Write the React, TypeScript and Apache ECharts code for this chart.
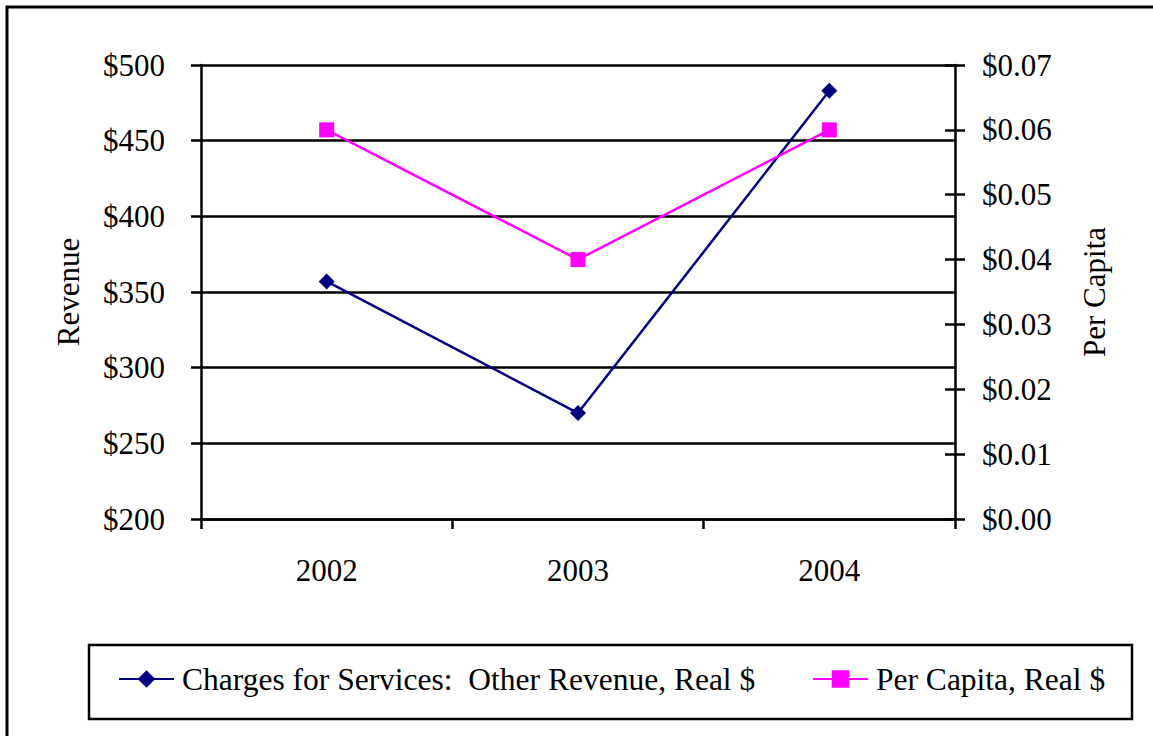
import React, { useEffect, useRef } from "react";
import * as echarts from "echarts";

const years = ["2002", "2003", "2004"];
const revenue = [357, 270, 483];
const perCapita = [0.06, 0.04, 0.06];
const seriesNames = ["Charges for Services:  Other Revenue, Real $", "Per Capita, Real $"];

const FONT = "Liberation Serif";

export default function App() {
  const ref = useRef<HTMLDivElement>(null);
  useEffect(() => {
    if (!ref.current) return;
    const chart = echarts.init(ref.current, null, { renderer: "svg" });
    const textStyle = { fontFamily: FONT, fontSize: 31, color: "#000" };
    const lw = 2.5;
    chart.setOption({
      animation: false,
      backgroundColor: "#fff",
      textStyle,
      grid: { left: 201, right: 198, top: 65, bottom: 217, containLabel: false },
      xAxis: {
        type: "category",
        data: years,
        boundaryGap: true,
        axisLine: { lineStyle: { color: "#000", width: lw } },
        axisTick: { show: true, length: 10, lineStyle: { color: "#000", width: lw } },
        axisLabel: { ...textStyle, margin: 36 },
        splitLine: { show: false },
      },
      yAxis: [
        {
          type: "value",
          min: 200,
          max: 500,
          interval: 50,
          position: "left",
          name: "Revenue",
          nameLocation: "middle",
          nameGap: 117,
          nameRotate: 90,
          nameTextStyle: { ...textStyle },
          axisLine: { show: true, lineStyle: { color: "#000", width: lw } },
          axisTick: { show: true, length: 10, lineStyle: { color: "#000", width: lw } },
          axisLabel: { ...textStyle, margin: 36, formatter: (v: number) => "$" + v },
          splitLine: { show: true, lineStyle: { color: "#000", width: lw } },
        },
        {
          type: "value",
          min: 0,
          max: 0.07,
          interval: 0.01,
          position: "right",
          name: "Per Capita",
          nameLocation: "middle",
          nameGap: 124,
          nameRotate: 90,
          nameTextStyle: { ...textStyle },
          axisLine: { show: true, lineStyle: { color: "#000", width: lw } },
          axisTick: { show: true, length: 10, lineStyle: { color: "#000", width: lw } },
          axisLabel: { ...textStyle, margin: 27, formatter: (v: number) => "$" + v.toFixed(2) },
          splitLine: { show: false },
        },
        {
          type: "value",
          min: 0,
          max: 0.07,
          interval: 0.01,
          position: "right",
          axisLine: { show: false },
          axisTick: { show: true, inside: true, length: 10, lineStyle: { color: "#000", width: lw } },
          axisLabel: { show: false },
          splitLine: { show: false },
        },
      ],
      legend: [
        {
          data: [seriesNames[0]],
          left: 118,
          top: 663,
          itemWidth: 55,
          itemHeight: 22,
          itemGap: 0,
          padding: 0,
          textStyle: { ...textStyle, fontSize: 31.5, padding: [0, 0, 0, 3] },
        },
        {
          data: [seriesNames[1]],
          left: 812,
          top: 663,
          itemWidth: 55,
          itemHeight: 22,
          itemGap: 0,
          padding: 0,
          textStyle: { ...textStyle, fontSize: 31.5, padding: [0, 0, 0, 3] },
        },
      ],
      graphic: [
        {
          type: "rect",
          shape: { x: 7, y: 7, width: 1160, height: 760 },
          style: { fill: "none", stroke: "#000", lineWidth: 3 },
          silent: true,
          z: -1,
        },
        {
          type: "rect",
          shape: { x: 89, y: 645, width: 1043, height: 74 },
          style: { fill: "none", stroke: "#000", lineWidth: 2.5 },
          silent: true,
        },
      ],
      series: [
        {
          name: seriesNames[0],
          type: "line",
          yAxisIndex: 0,
          data: revenue,
          symbol: "diamond",
          symbolSize: 16,
          lineStyle: { color: "#000080", width: 2.5 },
          itemStyle: { color: "#000080" },
        },
        {
          name: seriesNames[1],
          type: "line",
          yAxisIndex: 1,
          data: perCapita,
          symbol: "rect",
          symbolSize: 15,
          lineStyle: { color: "#ff00ff", width: 2.5 },
          itemStyle: { color: "#ff00ff" },
        },
      ],
    });
    return () => chart.dispose();
  }, []);
  return (
    <div
      ref={ref}
      style={{ position: "fixed", left: 0, top: 0, width: 1153, height: 736, background: "#fff" }}
    />
  );
}
